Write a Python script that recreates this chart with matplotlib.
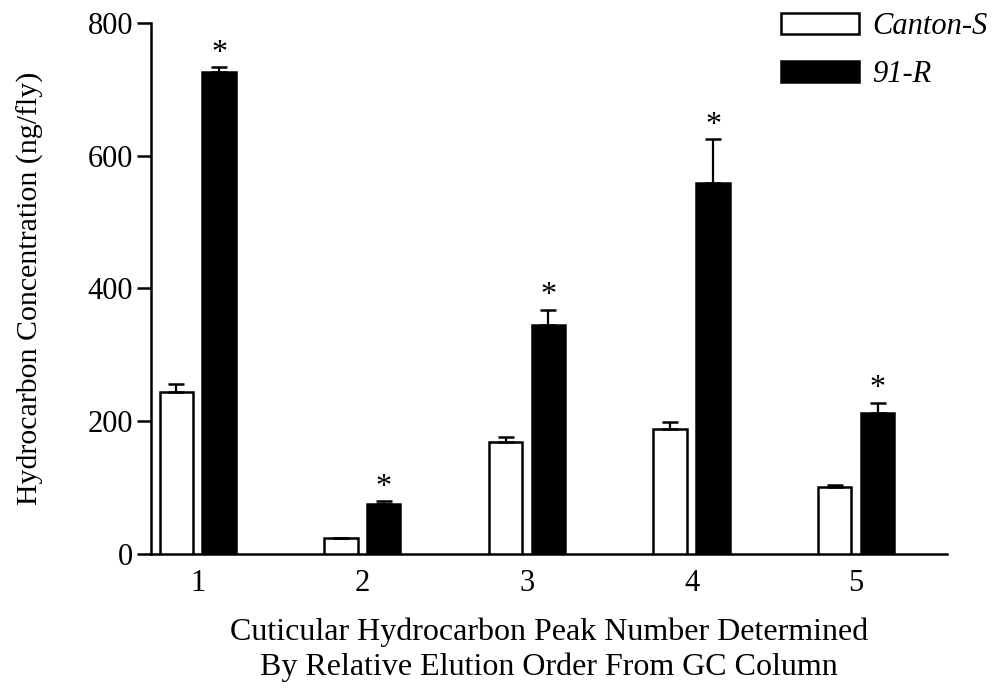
import numpy as np
import matplotlib
matplotlib.use('Agg')
import matplotlib.pyplot as plt

plt.rcParams['font.family'] = ['Liberation Serif', 'DejaVu Serif']

peaks = [1, 2, 3, 4, 5]
canton_mean = [244, 24, 168, 188, 101]
canton_err = [12, 0, 8, 11, 3]
r91_mean = [726, 76, 345, 558, 213]
r91_err = [7, 4, 23, 67, 15]
significant = [True, True, True, True, True]

x = np.array(peaks, dtype=float)
width = 0.2035
offset = 0.13

fig = plt.figure(figsize=(9.98, 6.90), dpi=100)
ax = fig.add_axes([0.1513, 0.197, 0.7976, 0.770])

lw = 1.8
err_kw = dict(elinewidth=1.6, capthick=1.8, capsize=5.8, ecolor='black')

ax.bar(x - offset, canton_mean, width, color='white', edgecolor='black',
       linewidth=lw, label='Canton-S',
       yerr=[np.zeros(5), canton_err], error_kw=err_kw, zorder=3)
ax.bar(x + offset, r91_mean, width, color='black', edgecolor='black',
       linewidth=lw, label='91-R',
       yerr=[np.zeros(5), r91_err], error_kw=err_kw, zorder=3)

# stars above the 91-R bars
for xi, m, e, sig in zip(x, r91_mean, r91_err, significant):
    if sig:
        ax.annotate('*', (xi + offset, m + e), xytext=(0, -0.5),
                    textcoords='offset points', ha='center', va='bottom',
                    fontsize=23)

ax.set_xlim(0.716, 5.552)
ax.set_ylim(0, 800)
ax.set_yticks([0, 200, 400, 600, 800])
ax.set_xticks(peaks)
ax.set_xticklabels([str(p) for p in peaks])

for side in ['top', 'right']:
    ax.spines[side].set_visible(False)
for side in ['left', 'bottom']:
    ax.spines[side].set_linewidth(lw)

ax.tick_params(axis='y', length=10, width=lw, labelsize=22, pad=3)
ax.tick_params(axis='x', length=0, labelsize=22, pad=11)

ax.set_ylabel('Hydrocarbon Concentration (ng/fly)', fontsize=21.5, labelpad=31)
ax.set_xlabel('Cuticular Hydrocarbon Peak Number Determined\n'
              'By Relative Elution Order From GC Column',
              fontsize=23, labelpad=14, linespacing=1.22)

leg = fig.legend(loc='upper left', bbox_to_anchor=(780.7 / 998, 1 - 12 / 690),
                 frameon=False, handlelength=2.55,
                 handleheight=0.66, handletextpad=0.44, labelspacing=0.62,
                 borderpad=0, borderaxespad=0, prop={'style': 'italic', 'size': 22})

fig.savefig('out.png', dpi=100)
